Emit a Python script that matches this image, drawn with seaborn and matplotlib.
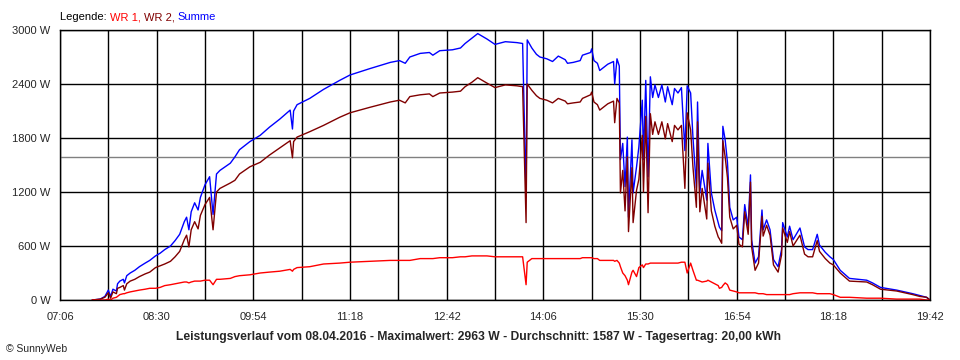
import pandas as pd
import seaborn as sns
import matplotlib.pyplot as plt

# Messzeitpunkte (hh:mm) und Leistung in W
zeit = [
    "07:34", "07:41", "07:45", "07:48", "07:50", "07:52", "07:55", "07:56", "07:58", "08:01",
    "08:02", "08:04", "08:07", "08:11", "08:15", "08:20", "08:24", "08:29", "08:33", "08:37",
    "08:42", "08:46", "08:50", "08:54", "08:56", "08:58", "09:00", "09:03", "09:06", "09:08",
    "09:12", "09:16", "09:19", "09:22", "09:25", "09:34", "09:38", "09:42", "09:51", "10:00",
    "10:08", "10:17", "10:26", "10:28", "10:29", "10:32", "10:43", "10:55", "11:09", "11:18",
    "11:35", "11:53", "12:01", "12:06", "12:10", "12:19", "12:27", "12:30", "12:36", "12:47",
    "12:54", "12:58", "13:04", "13:09", "13:17", "13:24", "13:33", "13:43", "13:48", "13:51",
    "13:52", "13:56", "14:00", "14:03", "14:09", "14:14", "14:19", "14:25", "14:27", "14:32",
    "14:38", "14:40", "14:47", "14:48", "14:50", "14:53", "14:55", "14:58", "15:02", "15:07",
    "15:08", "15:10", "15:12", "15:13", "15:15", "15:17", "15:19", "15:20", "15:23", "15:24",
    "15:27", "15:29", "15:32", "15:33", "15:35", "15:37", "15:39", "15:41", "15:43", "15:46",
    "15:49", "15:52", "15:54", "15:58", "16:00", "16:03", "16:06", "16:09", "16:11", "16:14",
    "16:16", "16:19", "16:20", "16:22", "16:24", "16:28", "16:29", "16:32", "16:35", "16:38",
    "16:39", "16:41", "16:42", "16:44", "16:46", "16:48", "16:51", "16:54", "16:56", "16:59",
    "17:01", "17:04", "17:06", "17:07", "17:10", "17:13", "17:16", "17:17", "17:20", "17:23",
    "17:26", "17:30", "17:33", "17:34", "17:38", "17:40", "17:43", "17:49", "17:53", "17:56",
    "18:00", "18:04", "18:06", "18:11", "18:15", "18:18", "18:24", "18:32", "18:47", "18:52",
    "18:59", "19:13", "19:27", "19:33", "19:39", "19:42",
]

wr1 = [
    0, 0, 0, 10, 0, 20, 30, 40, 60, 70,
    70, 80, 90, 100, 110, 120, 130, 130, 140, 160,
    170, 180, 190, 200, 200, 190, 200, 210, 210, 210,
    220, 220, 170, 230, 230, 240, 260, 270, 280, 300,
    310, 320, 340, 320, 340, 360, 370, 400, 410, 420,
    430, 440, 440, 440, 440, 460, 460, 460, 470, 470,
    480, 480, 490, 490, 490, 480, 480, 480, 480, 170,
    420, 460, 460, 460, 460, 460, 460, 460, 460, 460,
    460, 470, 470, 470, 460, 460, 440, 440, 440, 440,
    430, 440, 410, 370, 300, 270, 220, 170, 310, 330,
    260, 360, 390, 360, 400, 400, 410, 410, 410, 410,
    410, 410, 410, 410, 410, 410, 420, 420, 300, 410,
    330, 220, 220, 210, 200, 210, 220, 200, 180, 160,
    130, 140, 160, 190, 170, 110, 100, 90, 80, 80,
    80, 80, 80, 80, 80, 70, 70, 70, 60, 60,
    60, 60, 60, 60, 60, 60, 70, 80, 80, 80,
    80, 70, 70, 70, 70, 60, 30, 30, 20, 20,
    20, 10, 10, 10, 0, 0,
]

wr2 = [
    0, 10, 30, 80, 20, 90, 70, 130, 140, 160,
    110, 180, 210, 230, 260, 290, 310, 360, 380, 400,
    430, 480, 540, 670, 720, 590, 780, 870, 790, 940,
    1060, 1140, 780, 1200, 1240, 1300, 1330, 1400, 1480, 1530,
    1610, 1690, 1770, 1580, 1760, 1810, 1870, 1940, 2030, 2080,
    2140, 2200, 2220, 2190, 2260, 2280, 2290, 2260, 2300, 2310,
    2320, 2370, 2420, 2470, 2410, 2360, 2390, 2380, 2370, 860,
    2400, 2330, 2270, 2240, 2220, 2190, 2240, 2210, 2180, 2190,
    2200, 2240, 2280, 2310, 2200, 2170, 2110, 2140, 2180, 2210,
    1970, 2240, 2190, 1190, 1440, 990, 1590, 760, 1470, 860,
    1220, 1340, 1830, 1200, 2040, 970, 2070, 1840, 1980, 1840,
    1980, 1790, 1960, 1760, 1940, 1890, 1940, 1240, 2080, 1890,
    1480, 1030, 1980, 980, 1240, 900, 1520, 990, 820, 700,
    680, 630, 1770, 1590, 1360, 920, 790, 830, 620, 590,
    980, 730, 1310, 590, 330, 410, 930, 710, 830, 720,
    390, 310, 500, 800, 640, 760, 600, 720, 510, 480,
    480, 660, 540, 460, 410, 390, 300, 210, 200, 170,
    120, 100, 60, 40, 30, 0,
]

summe = [
    0, 10, 40, 110, 40, 120, 100, 180, 210, 230,
    190, 270, 300, 330, 370, 410, 440, 490, 520, 560,
    600, 660, 730, 870, 920, 780, 980, 1080, 1000, 1140,
    1280, 1370, 950, 1400, 1440, 1520, 1590, 1670, 1760, 1830,
    1920, 2010, 2110, 1900, 2100, 2170, 2240, 2340, 2440, 2500,
    2570, 2640, 2660, 2630, 2700, 2740, 2750, 2720, 2770, 2780,
    2800, 2850, 2910, 2960, 2900, 2840, 2870, 2860, 2850, 1140,
    2890, 2800, 2730, 2700, 2680, 2650, 2710, 2670, 2630, 2640,
    2660, 2720, 2750, 2790, 2660, 2630, 2550, 2580, 2620, 2650,
    2400, 2680, 2600, 1560, 1740, 1260, 1810, 920, 1780, 1190,
    1480, 1700, 2220, 1560, 2440, 1370, 2480, 2250, 2390, 2250,
    2390, 2200, 2370, 2170, 2350, 2300, 2360, 1660, 2380, 2300,
    1810, 1250, 2200, 1190, 1440, 1110, 1740, 1190, 1000, 860,
    810, 770, 1930, 1780, 1530, 1030, 890, 920, 700, 670,
    1060, 810, 1390, 670, 410, 480, 1000, 780, 890, 780,
    450, 370, 560, 860, 700, 820, 670, 800, 590, 560,
    560, 730, 610, 530, 480, 450, 330, 240, 220, 190,
    140, 110, 70, 50, 30, 0,
]

durchschnitt = 1587
x_labels = ["07:06", "08:30", "09:54", "11:18", "12:42", "14:06", "15:30", "16:54", "18:18", "19:42"]
y_ticks = [0, 600, 1200, 1800, 2400, 3000]
titel = ("Leistungsverlauf vom 08.04.2016 - Maximalwert: 2963 W - "
         "Durchschnitt: 1587 W - Tagesertrag: 20,00 kWh")


def minuten(s):
    h, m = s.split(":")
    return int(h) * 60 + int(m)


df = pd.DataFrame({"t": [minuten(z) for z in zeit], "WR 1": wr1, "WR 2": wr2, "Summe": summe})
df = df.melt(id_vars="t", var_name="reihe", value_name="W")

sns.set_style("white")
plt.rcParams["font.family"] = ["Liberation Sans", "DejaVu Sans"]

farben = {"Summe": "#0000FF", "WR 2": "#800000", "WR 1": "#FF0000"}

fig = plt.figure(figsize=(9.6, 3.6), dpi=100)
ax = fig.add_axes([60 / 960, 60 / 360, 870 / 960, 270 / 360])

sns.lineplot(data=df, x="t", y="W", hue="reihe", hue_order=["Summe", "WR 2", "WR 1"],
             palette=farben, estimator=None, linewidth=1.0, legend=False, ax=ax)
ax.axhline(durchschnitt, color="#808080", lw=1.0, zorder=1)

start = minuten(x_labels[0])
ende = minuten(x_labels[-1])
x_pos = list(range(start, ende + 1, 42))
x_lab = [x_labels[i // 2] if i % 2 == 0 else "" for i in range(len(x_pos))]
ax.set_xticks(x_pos, x_lab)
ax.set_yticks(y_ticks, [f"{v} W" for v in y_ticks])
ax.set_xlim(start, ende)
ax.set_ylim(0, 3000)
ax.set_xlabel("")
ax.set_ylabel("")

ax.grid(True, color="black", lw=1.0)
ax.set_axisbelow(True)
for sp in ax.spines.values():
    sp.set_visible(True)
    sp.set_color("black")
    sp.set_linewidth(1.0)
ax.tick_params(axis="x", direction="out", length=4, width=1, pad=5, labelsize=8, color="black")
ax.tick_params(axis="y", direction="out", length=5, width=1, pad=2, labelsize=8, color="black")

# Legende als farbiger Text oben links
fig.canvas.draw()
r = fig.canvas.get_renderer()
xpos = 60
for txt, col in [("Legende: ", "black"), ("WR 1, ", "#FF0000"), ("WR 2, ", "#800000"), ("Summe", "#0000FF")]:
    t = fig.text(xpos / 960, 1 - 17 / 360, txt, color=col, fontsize=8, va="center", ha="left")
    bb = t.get_window_extent(renderer=r)
    xpos = bb.x1

fig.text(479 / 960, 1 - 337 / 360, titel, fontsize=8.7, fontweight="bold", ha="center", va="center")
fig.text(6 / 960, 1 - 349 / 360, "\u00a9 SunnyWeb", fontsize=7.5, ha="left", va="center")

fig.savefig("out.png", dpi=100)
